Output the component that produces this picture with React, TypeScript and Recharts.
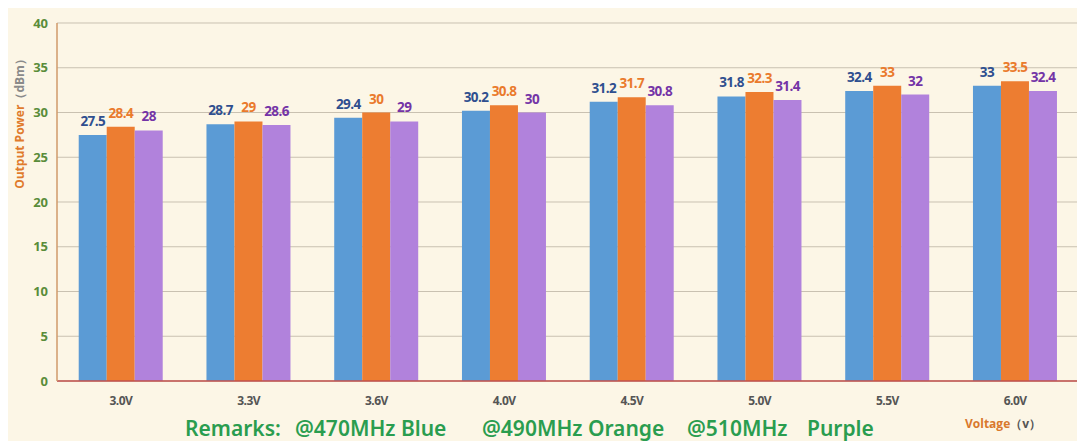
import React from "react";
import { BarChart, Bar, XAxis, YAxis, CartesianGrid, LabelList, Label } from "recharts";

const categories = ["3.0V", "3.3V", "3.6V", "4.0V", "4.5V", "5.0V", "5.5V", "6.0V"];
const blue470 = [27.5, 28.7, 29.4, 30.2, 31.2, 31.8, 32.4, 33];
const orange490 = [28.4, 29, 30, 30.8, 31.7, 32.3, 33, 33.5];
const purple510 = [28, 28.6, 29, 30, 30.8, 31.4, 32, 32.4];
const yTicks = [0, 5, 10, 15, 20, 25, 30, 35, 40];

const data = categories.map((c, i) => ({
  name: c,
  b: blue470[i],
  o: orange490[i],
  p: purple510[i],
}));

const FONT = "'Open Sans', 'Noto Sans', sans-serif";

const YLabel = (props: any) => {
  const x = 11;
  const y = 113;
  return (
    <text
      x={x}
      y={y}
      transform={`rotate(-90, ${x}, ${y})`}
      textAnchor="middle"
      dominantBaseline="central"
      fontFamily={FONT}
      fontWeight={700}
      fontSize={12}
    >
      <tspan fill="#e07b2c">Output Power</tspan>
      <tspan fill="#8a8a8a">（dBm）</tspan>
    </text>
  );
};

const labelStyle = (color: string) => ({
  fill: color,
  fontFamily: FONT,
  fontWeight: 700,
  fontSize: 13.5,
  letterSpacing: -0.6,
});

export default function App() {
  return (
    <div style={{ width: 1077, height: 433, background: "#fcf6e6", position: "relative" }}>
      <BarChart
        width={1077}
        height={433}
        data={data}
        margin={{ top: 15, right: 6, bottom: 30, left: 0 }}
        barCategoryGap="17%"
        barGap={0}
      >
        <CartesianGrid vertical={false} stroke="#c9c1b1" strokeWidth={1} />
        <XAxis
          dataKey="name"
          height={30}
          axisLine={{ stroke: "#c0504d", strokeWidth: 1.5 }}
          tickLine={false}
          tickMargin={9}
          tick={{ fill: "#555555", fontSize: 12, fontWeight: 700, fontFamily: FONT, letterSpacing: -0.6 } as any}
        />
        <YAxis
          width={49}
          domain={[0, 40]}
          ticks={yTicks}
          interval={0}
          axisLine={{ stroke: "#d09a6a", strokeWidth: 1.5 }}
          tickLine={false}
          tickSize={0}
          tickMargin={9}
          tick={{ fill: "#5a8c3a", fontSize: 13, fontWeight: 700, fontFamily: FONT } as any}
        >
          <Label content={<YLabel />} />
        </YAxis>
        <Bar dataKey="b" fill="#5b9bd5" isAnimationActive={false}>
          <LabelList dataKey="b" position="top" offset={9} style={labelStyle("#2f4f8f") as any} />
        </Bar>
        <Bar dataKey="o" fill="#ed7d31" isAnimationActive={false}>
          <LabelList dataKey="o" position="top" offset={9} style={labelStyle("#ea7a2c") as any} />
        </Bar>
        <Bar dataKey="p" fill="#b182dc" isAnimationActive={false}>
          <LabelList dataKey="p" position="top" offset={9} style={labelStyle("#7434a6") as any} />
        </Bar>
      </BarChart>
      <svg
        width={1077}
        height={435}
        style={{ position: "absolute", left: 0, top: 0, pointerEvents: "none", overflow: "visible" }}
      >
        <g fontFamily="'Noto Sans', 'Open Sans', sans-serif" fontWeight={600} fontSize={21} fill="#2a9d4f">
          <text x={177} y={428}>Remarks:</text>
          <text x={287} y={428}>@470MHz Blue</text>
          <text x={474} y={428}>@490MHz Orange</text>
          <text x={679} y={428}>@510MHz</text>
          <text x={799} y={428}>Purple</text>
        </g>
        <text x={957} y={420} fontFamily={FONT} fontWeight={700} fontSize={12}>
          <tspan fill="#d9782c">Voltage</tspan>
          <tspan fill="#555555">（v）</tspan>
        </text>
      </svg>
    </div>
  );
}
